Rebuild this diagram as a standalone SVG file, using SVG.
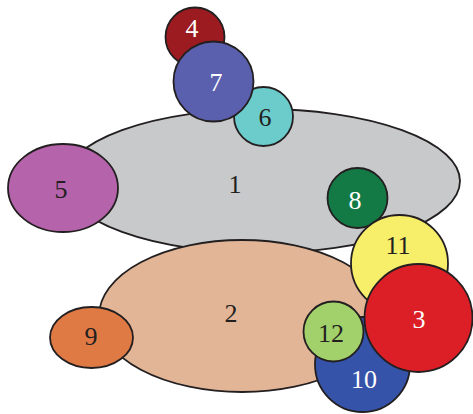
<svg xmlns="http://www.w3.org/2000/svg" width="473" height="414" viewBox="0 0 473 414">
<style>
.s{stroke:#231f20;stroke-width:1.8}
.t{font-family:"Liberation Serif","Times New Roman",serif;font-size:26px;text-anchor:middle}
.w{fill:#ffffff}
.d{fill:#231f20}
</style>
<rect width="473" height="414" fill="#ffffff"/>
<g id="connectors"></g>
<g id="n1"><ellipse class="s" cx="262" cy="181" rx="198" ry="72" fill="#c8c9cb"/><text class="t d" x="235" y="193">1</text></g>
<g id="n5"><ellipse class="s" cx="63" cy="188" rx="55" ry="44" fill="#b563aa"/><text class="t d" x="61" y="198">5</text></g>
<g id="n4"><circle class="s" cx="195" cy="37" r="29.5" fill="#9b1b20"/><text class="t w" x="192" y="37">4</text></g>
<g id="n6"><circle class="s" cx="263.5" cy="116.5" r="29.5" fill="#6ccccc"/><text class="t d" x="265" y="126">6</text></g>
<g id="n7"><circle class="s" cx="213.5" cy="81.5" r="40" fill="#5a5fae"/><text class="t w" x="216" y="91">7</text></g>
<g id="n8"><circle class="s" cx="357.5" cy="198" r="30" fill="#137a46"/><text class="t w" x="355" y="209">8</text></g>
<g id="n2"><ellipse class="s" cx="242" cy="316" rx="143" ry="76" fill="#e2b596"/><text class="t d" x="231" y="322">2</text></g>
<g id="n9"><ellipse class="s" cx="91.5" cy="337.5" rx="41.5" ry="30.5" fill="#e07a45"/><text class="t d" x="91" y="345">9</text></g>
<g id="n11"><circle class="s" cx="399.5" cy="263.5" r="48.5" fill="#f7ee6a"/><text class="t d" x="398" y="254">11</text></g>
<g id="n10"><circle class="s" cx="362.5" cy="364.5" r="47.5" fill="#3553a8"/><text class="t w" x="364" y="388">10</text></g>
<g id="n3"><circle class="s" cx="418.5" cy="318" r="54" fill="#dc1f26"/><text class="t w" x="419" y="328">3</text></g>
<g id="n12"><circle class="s" cx="333.5" cy="331.5" r="30" fill="#a2d06a"/><text class="t d" x="331" y="342">12</text></g>
</svg>
